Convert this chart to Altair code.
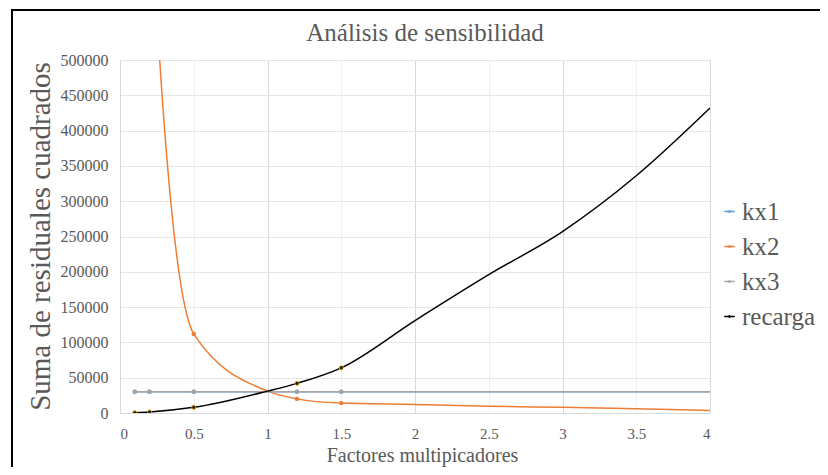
import altair as alt
import pandas as pd

factores = [0.1, 0.2, 0.5, 1, 1.2, 1.5, 2, 2.5, 3, 3.5, 4]
kx1 = [30000, 30000, 30000, 30000, 30000, 30000, 30000, 30000, 30000, 30000, 30000]
kx2 = [2900000, 760000, 112000, 31000, 20000, 14000, 12000, 9500, 8000, 6000, 3500]
kx3 = [30000, 30000, 30000, 30000, 30000, 30000, 30000, 30000, 30000, 30000, 30000]
recarga = [500, 1500, 8000, 31000, 42000, 64000, 131000, 196000, 257000, 336000, 432000]
marcadores = [0.1, 0.2, 0.5, 1.2, 1.5]
series = ["kx1", "kx2", "kx3", "recarga"]
colores = ["#5B9BD5", "#ED7D31", "#A5A5A5", "#000000"]
x_ticks = [0, 0.5, 1, 1.5, 2, 2.5, 3, 3.5, 4]
y_ticks = [0, 50000, 100000, 150000, 200000, 250000, 300000, 350000, 400000, 450000, 500000]
titulo = "Análisis de sensibilidad"

rows = []
for name, vals in zip(series, [kx1, kx2, kx3, recarga]):
    for f, v in zip(factores, vals):
        rows.append({"factor": f, "valor": v, "serie": name, "marca": f in marcadores})
df = pd.DataFrame(rows)

FONT = "Liberation Serif"
GREY = "#595959"

x_axis = alt.Axis(
    values=x_ticks,
    labelExpr="toString(datum.value)",
    title="Factores multipicadores",
    titleFont=FONT, titleFontSize=20, titleFontWeight="normal", titleColor=GREY,
    titlePadding=4, titleX=302,
    labelFont=FONT, labelFontSize=15, labelColor=GREY, labelPadding=13,
    ticks=False, domainColor="#d9d9d9", labelOverlap=False,
    gridColor={"condition": {"test": "datum.value % 1 === 0", "value": "#d9d9d9"}, "value": "#efefef"},
)
y_axis = alt.Axis(
    values=y_ticks,
    format="d",
    title="Suma de residuales cuadrados",
    titleFont=FONT, titleFontSize=29, titleFontWeight="normal", titleColor=GREY,
    titleX=-80, titleY=176, titleAngle=270, titleAlign="center", titleBaseline="middle",
    labelFont=FONT, labelFontSize=16, labelColor=GREY, labelPadding=12,
    ticks=False, domainColor="#d9d9d9", gridColor="#e6e6e6", labelOverlap=False,
)
x_scale = alt.Scale(domain=[0, 4], nice=False, zero=False)
y_scale = alt.Scale(domain=[0, 500000], nice=False)
x_enc = alt.X("factor:Q", scale=x_scale, axis=x_axis)
y_enc = alt.Y("valor:Q", scale=y_scale, axis=y_axis)
color_scale = alt.Scale(domain=series, range=colores)

legend = alt.Legend(
    title=None, orient="none", legendX=597, legendY=139,
    labelFont=FONT, labelFontSize=25, labelColor=GREY, labelOffset=0,
    symbolType="M-1,0H1M-0.15,0a0.15,0.15 0 1,0 0.3,0a0.15,0.15 0 1,0 -0.3,0",
    symbolSize=110, symbolStrokeWidth=1.5, rowPadding=9,
)

base = alt.Chart(df)

lines = base.mark_line(interpolate="monotone", strokeWidth=1.5, clip=True).encode(
    x=x_enc, y=y_enc,
    color=alt.Color("serie:N", scale=color_scale, legend=legend),
)

pts = base.transform_filter("datum.marca && datum.serie != 'recarga'").mark_point(
    filled=True, size=20, opacity=1, clip=True
).encode(
    x=x_enc, y=y_enc,
    color=alt.Color("serie:N", scale=color_scale, legend=None),
)

pts_rec = base.transform_filter("datum.marca && datum.serie == 'recarga'").mark_point(
    filled=True, size=16, opacity=1, fill="#1a1a1a", stroke="#D9A000", strokeWidth=1, clip=True
).encode(x=x_enc, y=y_enc)

title_text = alt.Chart(pd.DataFrame({"t": [titulo]})).mark_text(
    font=FONT, fontSize=25, color=GREY, align="center", baseline="alphabetic"
).encode(x=alt.value(305), y=alt.value(-19), text="t:N")

frame = alt.Chart(pd.DataFrame({"a": [0]})).mark_rect(
    fillOpacity=0, stroke="#000000", strokeWidth=2
).encode(
    x=alt.value(-108), x2=alt.value(1000), y=alt.value(-50), y2=alt.value(1000)
)

chart = alt.layer(lines, pts, pts_rec, title_text, frame).properties(
    width=590, height=353,
    autosize=alt.AutoSizeParams(type="none"),
    padding={"left": 112, "top": 52, "right": 110, "bottom": 54},
).configure_view(stroke=None).configure(background="white")

chart.save("out.html", embed_options={"renderer": "svg", "actions": False})
